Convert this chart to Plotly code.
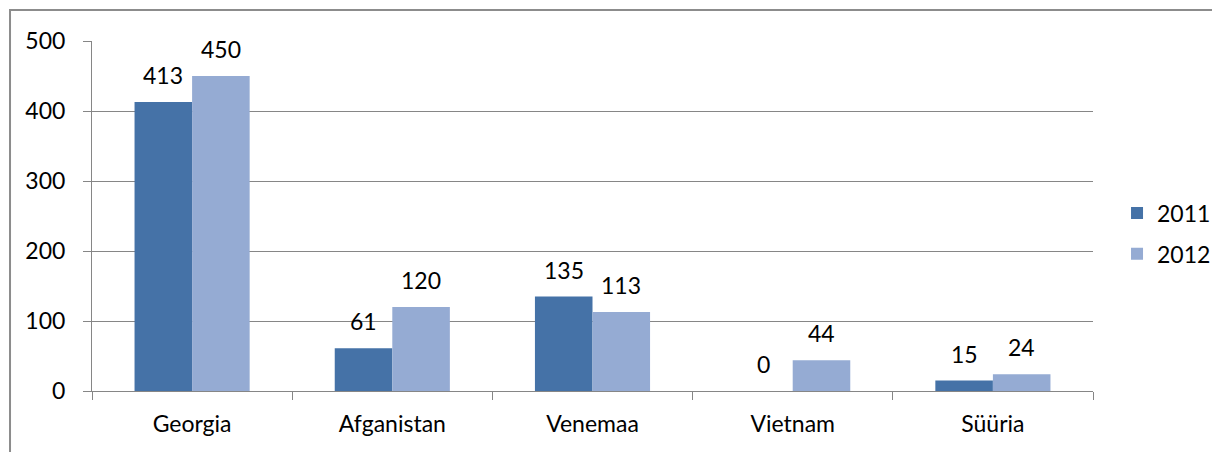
import plotly.graph_objects as go

countries = ["Georgia", "Afganistan", "Venemaa", "Vietnam", "Süüria"]
series_names = ["2011", "2012"]
values_2011 = [413, 61, 135, 0, 15]
values_2012 = [450, 120, 113, 44, 24]

colors = ["#4572A7", "#95ABD3"]
grid_color = "#868686"
font_family = "Lato, 'Open Sans', sans-serif"
font_size = 23

fig = go.Figure()
for i, (name, vals) in enumerate(zip(series_names, [values_2011, values_2012])):
    fig.add_trace(go.Bar(
        x=countries, y=vals, name=name,
        marker_color=colors[i], marker_line_width=0,
        legendgroup=name,
    ))

# data labels above each bar (offset half a bar to the left / right)
annotations = []
for i, vals in enumerate([values_2011, values_2012]):
    shift = -28.8 if i == 0 else 28.8
    for c, v in zip(countries, vals):
        annotations.append(dict(
            x=c, y=v, xref="x", yref="y", text=str(v), showarrow=False,
            xshift=shift, yshift=27, yanchor="middle",
            font=dict(family=font_family, size=font_size, color="#000000"),
        ))

# page body adds an 8px offset, so the figure is 8px smaller than the window
fig.update_layout(
    width=1212, height=444,
    margin=dict(l=84, r=127, t=33, b=61, autoexpand=False),
    paper_bgcolor="white", plot_bgcolor="white",
    barmode="group", bargap=0.425, bargroupgap=0,
    font=dict(family=font_family, size=font_size, color="#000000"),
    annotations=annotations,
    showlegend=True,
    legend=dict(
        x=1.024, xanchor="left", y=0.45, yanchor="middle",
        font=dict(family=font_family, size=font_size, color="#000000"),
        tracegroupgap=8, bgcolor="rgba(0,0,0,0)",
    ),
    shapes=[dict(
        type="rect", xref="paper", yref="paper",
        x0=-0.0819, x1=1.3, y0=-0.4, y1=1.0886,
        line=dict(color="#8C8C8C", width=2), fillcolor="rgba(0,0,0,0)",
        layer="below",
    )],
)

fig.update_yaxes(
    range=[0, 500], dtick=100, tick0=0,
    showgrid=True, gridcolor=grid_color, gridwidth=1,
    showline=True, linecolor=grid_color, linewidth=1,
    ticks="outside", ticklen=8, tickcolor=grid_color,
    ticklabelstandoff=13, zeroline=False,
)
fig.update_xaxes(
    showline=True, linecolor=grid_color, linewidth=1,
    ticks="outside", ticklen=8, tickcolor=grid_color, tickson="boundaries",
    ticklabelstandoff=12, showgrid=False,
)

fig.write_html("out.html")
